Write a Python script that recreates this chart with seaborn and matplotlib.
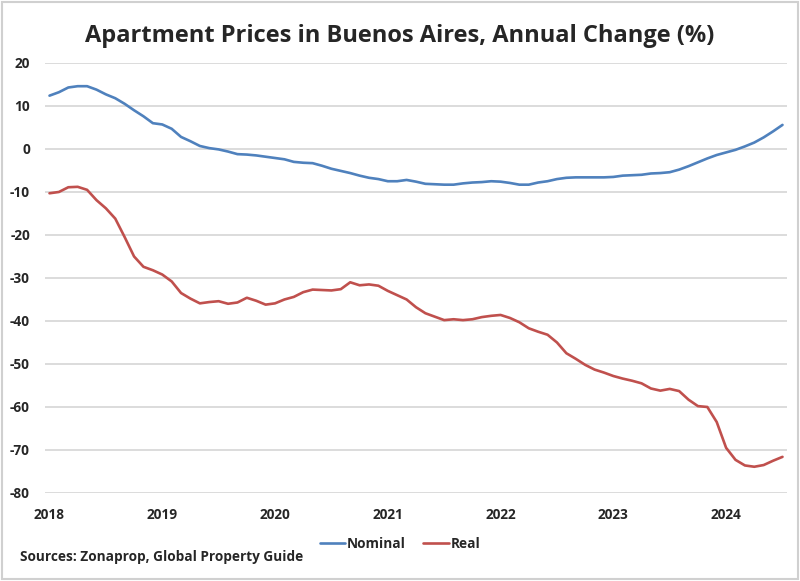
import numpy as np
import pandas as pd
import matplotlib
matplotlib.use("Agg")
import matplotlib.pyplot as plt
from matplotlib.lines import Line2D
import seaborn as sns

years = ["2018", "2019", "2020", "2021", "2022", "2023", "2024"]
months = pd.date_range("2018-01-01", "2024-07-01", freq="MS")

nominal = [12.4, 13.2, 14.3, 14.6, 14.6, 13.8, 12.7, 11.8, 10.5, 9.0, 7.6, 6.0,
           5.7, 4.7, 2.8, 1.8, 0.7, 0.2, -0.1, -0.6, -1.2, -1.3, -1.5, -1.8,
           -2.1, -2.4, -3.0, -3.2, -3.3, -3.9, -4.6, -5.1, -5.6, -6.2, -6.7, -7.0,
           -7.5, -7.5, -7.2, -7.6, -8.1, -8.2, -8.3, -8.3, -8.0, -7.8, -7.7, -7.5,
           -7.6, -7.9, -8.3, -8.3, -7.8, -7.5, -7.0, -6.7, -6.6, -6.6, -6.6, -6.6,
           -6.5, -6.2, -6.1, -6.0, -5.7, -5.6, -5.4, -4.8, -4.0, -3.1, -2.2, -1.4,
           -0.8, -0.2, 0.6, 1.5, 2.7, 4.1, 5.6]

real = [-10.3, -10.0, -8.9, -8.8, -9.5, -11.9, -13.8, -16.2, -20.5, -25.0, -27.4, -28.2,
        -29.2, -30.8, -33.5, -34.8, -35.9, -35.6, -35.4, -36.0, -35.7, -34.6, -35.3, -36.2,
        -35.9, -35.0, -34.4, -33.3, -32.7, -32.8, -32.9, -32.6, -31.0, -31.7, -31.5, -31.8,
        -33.0, -34.0, -35.0, -36.8, -38.2, -39.0, -39.8, -39.6, -39.8, -39.6, -39.1, -38.8,
        -38.6, -39.3, -40.3, -41.7, -42.5, -43.2, -45.0, -47.5, -48.8, -50.2, -51.3, -52.0,
        -52.8, -53.4, -53.9, -54.5, -55.7, -56.2, -55.8, -56.3, -58.3, -59.8, -60.0, -63.5,
        -69.5, -72.3, -73.6, -73.9, -73.5, -72.5, -71.6]

series_names = ["Nominal", "Real"]
colors = ["#4F81BD", "#C0504D"]

n = len(months)
df = pd.DataFrame({
    "idx": list(range(n)) * 2,
    "value": nominal + real,
    "series": [series_names[0]] * n + [series_names[1]] * n,
})

sns.set_theme(style="white")
plt.rcParams["font.family"] = ["Open Sans", "DejaVu Sans"]

fig = plt.figure(figsize=(8.0, 5.81), dpi=100)
ax = fig.add_axes([0.056, 0.1515, 0.928, 0.7401])

sns.lineplot(data=df, x="idx", y="value", hue="series", palette=colors,
             hue_order=series_names, linewidth=1.9, ax=ax, legend=False)

ax.set_xlim(-0.5, n - 0.5)
ax.set_ylim(-80, 20)
ax.set_yticks(np.arange(-80, 21, 10))
ax.set_yticklabels([f"{v:d}" for v in range(-80, 21, 10)], fontsize=9.8, fontweight="bold")
ax.set_xticks([12 * i for i in range(len(years))])
ax.set_xticklabels(years, fontsize=9.8, fontweight="bold")
ax.tick_params(axis="y", length=0, pad=10.7)
ax.tick_params(axis="x", length=0, pad=11)
ax.yaxis.grid(True, color="#d9d9d9", linewidth=1.3)
ax.xaxis.grid(False)
for s in ax.spines.values():
    s.set_visible(False)
ax.set_xlabel("")
ax.set_ylabel("")

fig.text(0.5, 0.938, "Apartment Prices in Buenos Aires, Annual Change (%)",
         ha="center", va="center", fontsize=17, fontweight="bold")

handles = [Line2D([0], [0], color=c, lw=1.9) for c in colors]
fig.legend(handles, series_names, loc="center", bbox_to_anchor=(0.5, 1 - 544 / 581),
           ncol=2, frameon=False, prop={"weight": "bold", "size": 9.8},
           handlelength=1.9, handletextpad=0.1, columnspacing=1.3)

fig.text(20 / 800, 1 - 557 / 581, "Sources: Zonaprop, Global Property Guide",
         ha="left", va="center", fontsize=9.8, fontweight="bold")

fig.patches.append(plt.Rectangle((0.002, 0.003), 0.995, 0.994, transform=fig.transFigure,
                                 fill=False, edgecolor="#d0d0d0", linewidth=1.5))

fig.savefig("out.png", dpi=100)
